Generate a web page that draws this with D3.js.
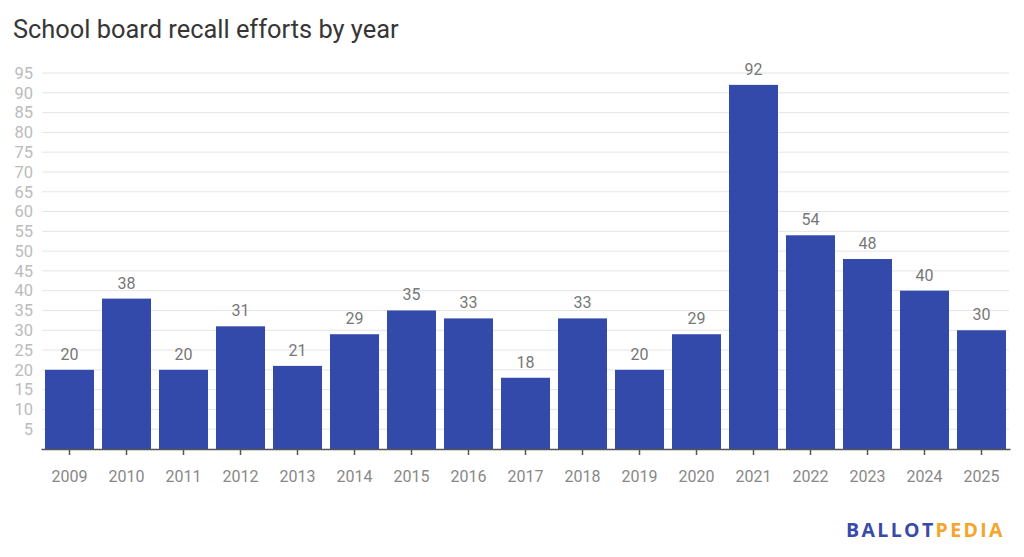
<!DOCTYPE html>
<html><head><meta charset="utf-8">
<script src="https://cdn.jsdelivr.net/npm/d3@7"></script>
<style>body{margin:0;background:#fff}svg{display:block}</style>
</head><body>
<svg id="c" width="1024" height="557"></svg>
<script>
const years = ["2009","2010","2011","2012","2013","2014","2015","2016","2017","2018","2019","2020","2021","2022","2023","2024","2025"];
const recalls = [20,38,20,31,21,29,35,33,18,33,20,29,92,54,48,40,30];
const yTicks = [5,10,15,20,25,30,35,40,45,50,55,60,65,70,75,80,85,90,95];
const title = "School board recall efforts by year";

const svg = d3.select("#c");
const font = "Roboto, 'Noto Sans', sans-serif";
const x = d3.scaleBand().domain(years).range([41, 1010]).paddingInner(0.14).paddingOuter(0.07);
const y = d3.scaleLinear().domain([0, 95]).range([449, 73]);

svg.append("text").attr("x", 13).attr("y", 38).attr("font-family", font)
  .attr("font-size", 25.4).attr("fill", "#363636").text(title);

// grid
svg.append("g").selectAll("line").data(yTicks).join("line")
  .attr("x1", 42).attr("x2", 1009).attr("y1", d => y(d)).attr("y2", d => y(d))
  .attr("stroke", "#e5e5e5").attr("stroke-width", 1);

// y labels
svg.append("g").selectAll("text").data(yTicks).join("text")
  .attr("x", 33).attr("y", d => y(d)).attr("dy", "0.35em").attr("text-anchor", "end")
  .attr("font-family", font).attr("font-size", 16.5).attr("fill", "#bbbbbb").text(d => d);

// bars
svg.append("g").selectAll("rect").data(years).join("rect")
  .attr("x", d => x(d)).attr("width", x.bandwidth())
  .attr("y", (d, i) => y(recalls[i])).attr("height", (d, i) => y(0) - y(recalls[i]))
  .attr("fill", "#344aaa");

// value labels
svg.append("g").selectAll("text").data(years).join("text")
  .attr("x", d => x(d) + x.bandwidth() / 2).attr("y", (d, i) => y(recalls[i]) - 10)
  .attr("text-anchor", "middle").attr("font-family", font).attr("font-size", 16)
  .attr("fill", "#777").text((d, i) => recalls[i]);

// x axis
const xa = svg.append("g").attr("transform", "translate(0,449)")
  .call(d3.axisBottom(x).tickSize(6).tickSizeOuter(0));
xa.select(".domain").attr("stroke", "#555").attr("stroke-width", 1.5);
xa.selectAll(".tick line").attr("stroke", "#555").attr("stroke-width", 1.5);
xa.selectAll(".tick text").attr("font-family", font).attr("font-size", 16)
  .attr("fill", "#888").attr("y", 0).attr("dy", 0)
  .attr("transform", "translate(0,33)");

// logo
const logo = svg.append("text").attr("x", 846).attr("y", 537)
  .attr("font-family", "'Open Sans', Lato, sans-serif").attr("font-weight", "bold")
  .attr("font-size", 19.5).attr("letter-spacing", 1.5).attr("textLength", 158)
  .attr("lengthAdjust", "spacing");
logo.append("tspan").attr("fill", "#3a4aa8").text("BALLOT");
logo.append("tspan").attr("fill", "#f5a52b").text("PEDIA");
</script>
</body></html>
